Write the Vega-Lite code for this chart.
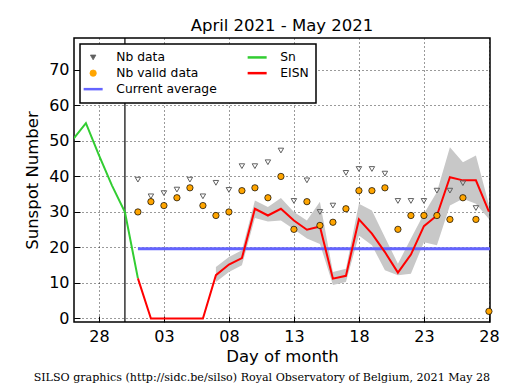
{
  "$schema": "https://vega.github.io/schema/vega-lite/v6.json",
  "background": "white",
  "padding": {"left": 23, "top": 17, "right": 5, "bottom": 2},
  "title": {
    "text": "SILSO graphics (http://sidc.be/silso) Royal Observatory of Belgium, 2021 May 28",
    "orient": "bottom",
    "anchor": "middle",
    "font": "DejaVu Serif",
    "fontSize": 11.1,
    "fontWeight": "normal",
    "color": "black",
    "offset": 7
  },
  "datasets": {
    "sn": [
      {"date": "2021-04-26", "value": 50.4},
      {"date": "2021-04-27", "value": 55.0},
      {"date": "2021-04-28", "value": 46.0},
      {"date": "2021-04-29", "value": 37.5},
      {"date": "2021-04-30", "value": 30.0},
      {"date": "2021-05-01", "value": 11.3}
    ],
    "eisn": [
      {"date": "2021-05-01", "value": 11.3},
      {"date": "2021-05-02", "value": 0},
      {"date": "2021-05-03", "value": 0},
      {"date": "2021-05-04", "value": 0},
      {"date": "2021-05-05", "value": 0},
      {"date": "2021-05-06", "value": 0},
      {"date": "2021-05-07", "value": 12.2, "lo": 10.3, "hi": 14.5},
      {"date": "2021-05-08", "value": 15.2, "lo": 13.1, "hi": 17.3},
      {"date": "2021-05-09", "value": 17.0, "lo": 15.0, "hi": 19.2},
      {"date": "2021-05-10", "value": 30.9, "lo": 28.3, "hi": 33.2},
      {"date": "2021-05-11", "value": 29.0, "lo": 27.3, "hi": 31.4},
      {"date": "2021-05-12", "value": 30.9, "lo": 27.6, "hi": 33.9},
      {"date": "2021-05-13", "value": 27.6, "lo": 25.1, "hi": 30.0},
      {"date": "2021-05-14", "value": 25.0, "lo": 22.5, "hi": 27.6},
      {"date": "2021-05-15", "value": 25.9, "lo": 21.0, "hi": 32.9},
      {"date": "2021-05-16", "value": 11.2, "lo": 9.4, "hi": 13.1},
      {"date": "2021-05-17", "value": 12.0, "lo": 10.3, "hi": 14.0},
      {"date": "2021-05-18", "value": 27.9, "lo": 23.4, "hi": 32.3},
      {"date": "2021-05-19", "value": 23.9, "lo": 20.6, "hi": 30.4},
      {"date": "2021-05-20", "value": 18.7, "lo": 13.6, "hi": 22.9},
      {"date": "2021-05-21", "value": 12.9, "lo": 12.2, "hi": 15.4},
      {"date": "2021-05-22", "value": 18.0, "lo": 12.6, "hi": 22.5},
      {"date": "2021-05-23", "value": 26.0, "lo": 21.5, "hi": 29.5},
      {"date": "2021-05-24", "value": 29.0, "lo": 20.6, "hi": 35.6},
      {"date": "2021-05-25", "value": 39.8, "lo": 31.8, "hi": 48.2},
      {"date": "2021-05-26", "value": 38.9, "lo": 33.7, "hi": 44.0},
      {"date": "2021-05-27", "value": 38.9, "lo": 32.3, "hi": 45.9},
      {"date": "2021-05-28", "value": 30.1, "lo": 28.0, "hi": 32.0}
    ],
    "nb": [
      {"date": "2021-05-01", "value": 39.1},
      {"date": "2021-05-02", "value": 34.4},
      {"date": "2021-05-03", "value": 35.3},
      {"date": "2021-05-04", "value": 36.3},
      {"date": "2021-05-05", "value": 39.1},
      {"date": "2021-05-06", "value": 34.4},
      {"date": "2021-05-07", "value": 38.2},
      {"date": "2021-05-08", "value": 36.2},
      {"date": "2021-05-09", "value": 42.9},
      {"date": "2021-05-10", "value": 42.9},
      {"date": "2021-05-11", "value": 44.0},
      {"date": "2021-05-12", "value": 47.3},
      {"date": "2021-05-13", "value": 33.1},
      {"date": "2021-05-14", "value": 38.9},
      {"date": "2021-05-15", "value": 30.0},
      {"date": "2021-05-16", "value": 31.8},
      {"date": "2021-05-17", "value": 41.0},
      {"date": "2021-05-18", "value": 42.1},
      {"date": "2021-05-19", "value": 42.1},
      {"date": "2021-05-20", "value": 40.8},
      {"date": "2021-05-21", "value": 33.1},
      {"date": "2021-05-22", "value": 33.1},
      {"date": "2021-05-23", "value": 33.1},
      {"date": "2021-05-24", "value": 36.0},
      {"date": "2021-05-25", "value": 36.0},
      {"date": "2021-05-26", "value": 38.1},
      {"date": "2021-05-27", "value": 31.1}
    ],
    "valid": [
      {"date": "2021-05-01", "value": 30.0},
      {"date": "2021-05-02", "value": 32.9},
      {"date": "2021-05-03", "value": 31.8},
      {"date": "2021-05-04", "value": 34.0},
      {"date": "2021-05-05", "value": 36.8},
      {"date": "2021-05-06", "value": 31.8},
      {"date": "2021-05-07", "value": 29.0},
      {"date": "2021-05-08", "value": 30.0},
      {"date": "2021-05-09", "value": 36.0},
      {"date": "2021-05-10", "value": 36.8},
      {"date": "2021-05-11", "value": 34.0},
      {"date": "2021-05-12", "value": 40.0},
      {"date": "2021-05-13", "value": 25.1},
      {"date": "2021-05-14", "value": 32.9},
      {"date": "2021-05-15", "value": 26.2},
      {"date": "2021-05-16", "value": 27.1},
      {"date": "2021-05-17", "value": 30.9},
      {"date": "2021-05-18", "value": 36.0},
      {"date": "2021-05-19", "value": 36.0},
      {"date": "2021-05-20", "value": 36.8},
      {"date": "2021-05-21", "value": 25.1},
      {"date": "2021-05-22", "value": 29.0},
      {"date": "2021-05-23", "value": 29.0},
      {"date": "2021-05-24", "value": 29.0},
      {"date": "2021-05-25", "value": 27.9},
      {"date": "2021-05-26", "value": 34.0},
      {"date": "2021-05-27", "value": 27.9},
      {"date": "2021-05-28", "value": 2.0}
    ],
    "avg": [
      {"date": "2021-05-01", "value": 19.6},
      {"date": "2021-05-28T06:00:00Z", "value": 19.6}
    ],
    "marker": [
      {"date": "2021-04-30"}
    ]
  },
  "vconcat": [
    {
      "width": 416,
      "height": 284,
      "title": {
        "text": "April 2021 - May 2021",
        "font": "DejaVu Sans",
        "fontSize": 16.5,
        "fontWeight": "normal",
        "color": "black",
        "anchor": "middle",
        "offset": 3
      },
      "encoding": {
        "x": {
          "field": "date",
          "type": "temporal",
          "title": "Day of month",
          "scale": {
            "type": "utc",
            "domain": [
              {"year": 2021, "month": 4, "date": 26, "hours": 2, "utc": true},
              {"year": 2021, "month": 5, "date": 28, "hours": 2, "utc": true}
            ]
          },
          "axis": {
            "labelExpr": "utcFormat(datum.value, '%d')",
            "values": [
              {"year": 2021, "month": 4, "date": 28, "utc": true},
              {"year": 2021, "month": 5, "date": 3, "utc": true},
              {"year": 2021, "month": 5, "date": 8, "utc": true},
              {"year": 2021, "month": 5, "date": 13, "utc": true},
              {"year": 2021, "month": 5, "date": 18, "utc": true},
              {"year": 2021, "month": 5, "date": 23, "utc": true},
              {"year": 2021, "month": 5, "date": 28, "utc": true}
            ],
            "labelPadding": 12,
            "titlePadding": 4
          }
        },
        "y": {
          "field": "value",
          "type": "quantitative",
          "title": "Sunspot Number",
          "scale": {"domain": [-1, 79], "nice": false, "zero": false},
          "axis": {
            "values": [0, 10, 20, 30, 40, 50, 60, 70],
            "labelPadding": 11,
            "titlePadding": 8
          }
        }
      },
      "layer": [
        {
          "data": {"name": "eisn"},
          "transform": [{"filter": "isValid(datum.lo)"}],
          "mark": {"type": "area", "color": "#c8c8c8", "opacity": 1, "clip": true},
          "encoding": {
            "y": {"field": "lo", "type": "quantitative"},
            "y2": {"field": "hi"}
          }
        },
        {
          "data": {"name": "marker"},
          "mark": {"type": "rule", "color": "black", "strokeWidth": 1.2},
          "encoding": {
            "x": {"field": "date", "type": "temporal"},
            "y": null
          }
        },
        {
          "data": {"name": "avg"},
          "mark": {"type": "line", "strokeWidth": 3, "clip": true},
          "encoding": {
            "color": {
              "datum": "Current average",
              "type": "nominal",
              "scale": {
                "domain": ["Nb data", "Nb valid data", "Current average", "Sn", "EISN"],
                "range": ["#606060", "#ffa500", "#6464ff", "#32cd32", "#ff0000"]
              },
              "legend": {
                "title": null,
                "orient": "top-left",
                "columns": 2,
                "offset": 6,
                "padding": 7,
                "fillColor": "white",
                "strokeColor": "black",
                "labelFont": "DejaVu Sans",
                "labelFontSize": 12.3,
                "labelColor": "black",
                "labelOffset": 17,
                "symbolSize": 361,
                "rowPadding": 3,
                "columnPadding": 25,
                "encode": {
                  "legend": {"update": {"strokeWidth": {"value": 1.5}}},
                  "symbols": {
                    "update": {
                      "shape": {"signal": "datum.value === 'Nb data' ? 'triangle-down' : (datum.value === 'Nb valid data' ? 'circle' : 'stroke')"},
                      "size": {"signal": "datum.value === 'Nb data' ? 30 : (datum.value === 'Nb valid data' ? 40 : 361)"},
                      "fill": {"signal": "datum.value === 'Nb valid data' ? '#ffa500' : (datum.value === 'Nb data' ? 'white' : 'transparent')"},
                      "stroke": {"signal": "datum.value === 'Nb data' ? '#606060' : (datum.value === 'Nb valid data' ? 'black' : (datum.value === 'Sn' ? '#32cd32' : (datum.value === 'EISN' ? '#ff0000' : '#6464ff')))"},
                      "strokeWidth": {"signal": "(datum.value === 'Nb data' || datum.value === 'Nb valid data') ? 0.8 : 2.5"},
                      "opacity": {"value": 1}
                    }
                  }
                }
              }
            }
          }
        },
        {
          "data": {"name": "sn"},
          "mark": {"type": "line", "strokeWidth": 2, "clip": true},
          "encoding": {"color": {"datum": "Sn", "type": "nominal"}}
        },
        {
          "data": {"name": "eisn"},
          "mark": {"type": "line", "strokeWidth": 2, "clip": true},
          "encoding": {"color": {"datum": "EISN", "type": "nominal"}}
        },
        {
          "data": {"name": "nb"},
          "mark": {"type": "point", "shape": "triangle-down", "filled": false, "size": 30, "strokeWidth": 1, "opacity": 1, "clip": true},
          "encoding": {"color": {"datum": "Nb data", "type": "nominal"}}
        },
        {
          "data": {"name": "valid"},
          "mark": {"type": "point", "shape": "circle", "filled": true, "size": 40, "stroke": "black", "strokeWidth": 0.7, "opacity": 1, "clip": false},
          "encoding": {"color": {"datum": "Nb valid data", "type": "nominal"}}
        }
      ]
    }
  ],
  "config": {
    "view": {"stroke": "black", "strokeWidth": 1.5},
    "axis": {
      "domain": false,
      "grid": true,
      "gridColor": "black",
      "gridDash": [1, 3],
      "gridWidth": 0.8,
      "gridOpacity": 1,
      "ticks": true,
      "tickColor": "black",
      "tickSize": -6,
      "tickWidth": 1,
      "labelFont": "DejaVu Sans",
      "labelFontSize": 16,
      "labelColor": "black",
      "titleFont": "DejaVu Sans",
      "titleFontSize": 16.5,
      "titleFontWeight": "normal",
      "titleColor": "black"
    }
  }
}
